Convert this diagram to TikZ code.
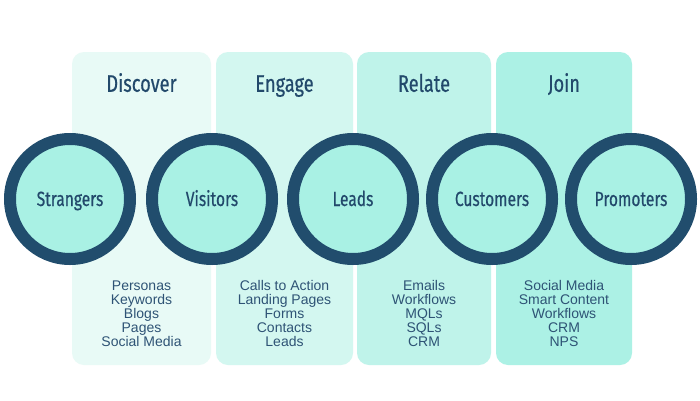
\documentclass[tikz,border=0pt]{standalone}
\usepackage{fontspec}
\setmainfont{Liberation Sans}
\newfontfamily\condfont[FakeStretch=0.76,FakeBold=0.5]{Fira Sans}
\usetikzlibrary{positioning}
\definecolor{ring}{HTML}{214D6D}
\definecolor{core}{HTML}{A9F1E4}
\definecolor{ink}{HTML}{22496B}
\definecolor{listink}{HTML}{2E5375}
\definecolor{stepa}{HTML}{E8FAF6}
\definecolor{stepb}{HTML}{D3F7F0}
\definecolor{stepc}{HTML}{BFF3EA}
\definecolor{stepd}{HTML}{ACF1E5}

\begin{document}
\begin{tikzpicture}[x=1pt,y=1pt,
  panel/.style={rounded corners=12pt,inner sep=0pt,minimum height=313pt},
  phase/.style={font=\condfont\fontsize{24}{28}\selectfont,text=ink,anchor=base,inner sep=0pt},
  stage/.style={circle,draw=ring,fill=core,line width=12pt,minimum size=120pt,inner sep=0pt,
    text height=14pt,text depth=0pt,font=\condfont\fontsize{20.5}{24}\selectfont,text=ink},
  tools/.style={align=center,font=\fontsize{14}{14}\selectfont,text=listink,inner sep=0pt,anchor=base}]
\useasboundingbox[fill=white] (0,0) rectangle (700,400);
% panels
\node[panel,fill=stepa,minimum width=139pt] (discover) at (141.5,191.5) {};
\node[panel,fill=stepb,minimum width=137pt] (engage) at (284.5,191.5) {};
\node[panel,fill=stepc,minimum width=134pt] (relate) at (424,191.5) {};
\node[panel,fill=stepd,minimum width=136pt] (join) at (564,191.5) {};
% phase names
\node[phase] (discovert) at ([yshift=-40pt]discover.north) {Discover};
\node[phase] (engaget) at ([yshift=-40pt]engage.north) {Engage};
\node[phase] (relatet) at ([yshift=-40pt]relate.north) {Relate};
\node[phase] (joint) at ([yshift=-40pt]join.north) {Join};
% stages
\node[stage] (strangers) at (70,201) {Strangers};
\node[stage] (visitors) at (212,201) {Visitors};
\node[stage] (leads) at (353,201) {Leads};
\node[stage] (customers) at (492,201) {Customers};
\node[stage] (promoters) at (631,201) {Promoters};
% tools
\node[tools] (discoverl) at ([yshift=-137.5pt]discover.center) {Personas\\Keywords\\Blogs\\Pages\\Social Media};
\node[tools] (engagel) at ([yshift=-137.5pt]engage.center) {Calls to Action\\Landing Pages\\Forms\\Contacts\\Leads};
\node[tools] (relatel) at ([yshift=-137.5pt]relate.center) {Emails\\Workflows\\MQLs\\SQLs\\CRM};
\node[tools] (joinl) at ([yshift=-137.5pt]join.center) {Social Media\\Smart Content\\Workflows\\CRM\\NPS};
\end{tikzpicture}
\end{document}
